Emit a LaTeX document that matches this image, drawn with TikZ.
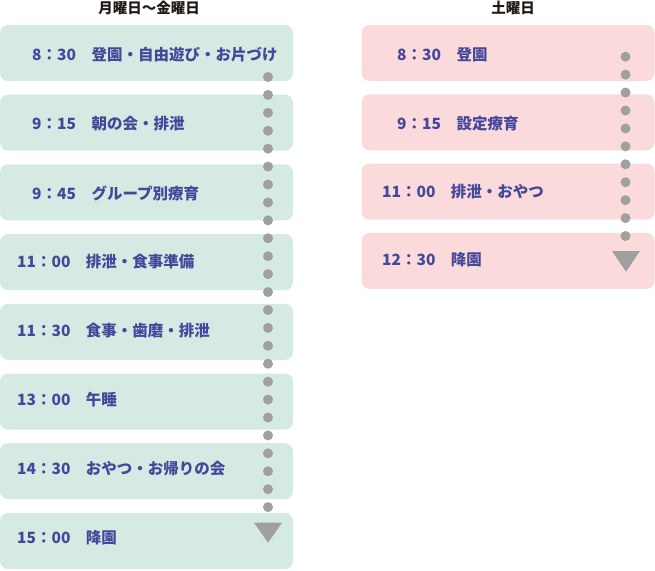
\documentclass[tikz,border=0pt]{standalone}
\usepackage{fontspec}
\setmainfont{Noto Sans CJK JP}
\usepackage{xcolor}

\definecolor{weekgreen}{HTML}{D5EAE2}
\definecolor{satpink}{HTML}{FADADA}
\definecolor{itemblue}{HTML}{45479A}
\definecolor{dotgray}{HTML}{A0A0A0}
\definecolor{headblack}{HTML}{231815}

\tikzset{
  weekbox/.style={fill=weekgreen,rounded corners=8pt,minimum width=293pt,minimum height=56pt,inner sep=0pt},
  satbox/.style={fill=satpink,rounded corners=8pt,minimum width=293pt,minimum height=56pt,inner sep=0pt},
  item/.style={anchor=west,inner sep=0pt,text=itemblue,font=\fontsize{15.5pt}{16pt}\selectfont\bfseries},
  head/.style={inner sep=0pt,text=headblack,font=\fontsize{14.5pt}{15pt}\selectfont\bfseries},
  tldot/.style={circle,fill=dotgray,minimum size=10pt,inner sep=0pt}
}

\begin{document}
\begin{tikzpicture}[x=1pt,y=-1pt]
            \useasboundingbox (0,0) rectangle (655,570);

            \node (weekhead) at (149,8) [head] {月曜日～金曜日};
            \node (sathead) at (513,8) [head] {土曜日};

            \node (w1) at (146.5,53) [weekbox] {};
            \node (w2) at (146.5,122.7) [weekbox] {};
            \node (w3) at (146.5,192.4) [weekbox] {};
            \node (w4) at (146.5,262.1) [weekbox] {};
            \node (w5) at (146.5,331.8) [weekbox] {};
            \node (w6) at (146.5,401.5) [weekbox] {};
            \node (w7) at (146.5,471.2) [weekbox] {};
            \node (w8) at (146.5,540.9) [weekbox] {};

            \node (s1) at (508,53) [satbox] {};
            \node (s2) at (508,122.3) [satbox] {};
            \node (s3) at (508,191.6) [satbox] {};
            \node (s4) at (508,260.9) [satbox] {};

            % dotted time lines
            \foreach \i in {0,...,24}
                \node (wd\i) at (268,77+17.92*\i) [tldot] {};
            \foreach \i in {0,...,10}
                \node (sd\i) at (625.5,56.7+17.93*\i) [tldot] {};
            \fill[dotgray] (254,522.7) -- (282,522.7) -- (268,542.7) -- cycle;
            \fill[dotgray] (612,251) -- (640,251) -- (626,271.7) -- cycle;

            \node (wt1) at (32,55) [item] {8：30　登園・自由遊び・お片づけ};
            \node (wt2) at (32,124) [item] {9：15　朝の会・排泄};
            \node (wt3) at (32,193) [item] {9：45　グループ別療育};
            \node (wt4) at (17,262) [item] {11：00　排泄・食事準備};
            \node (wt5) at (17,331) [item] {11：30　食事・歯磨・排泄};
            \node (wt6) at (17,400) [item] {13：00　午睡};
            \node (wt7) at (17,469) [item] {14：30　おやつ・お帰りの会};
            \node (wt8) at (17,538) [item] {15：00　降園};

            \node (st1) at (397,55) [item] {8：30　登園};
            \node (st2) at (397,123.3) [item] {9：15　設定療育};
            \node (st3) at (382,191.6) [item] {11：00　排泄・おやつ};
            \node (st4) at (382,260) [item] {12：30　降園};

        \end{tikzpicture}
\end{document}
